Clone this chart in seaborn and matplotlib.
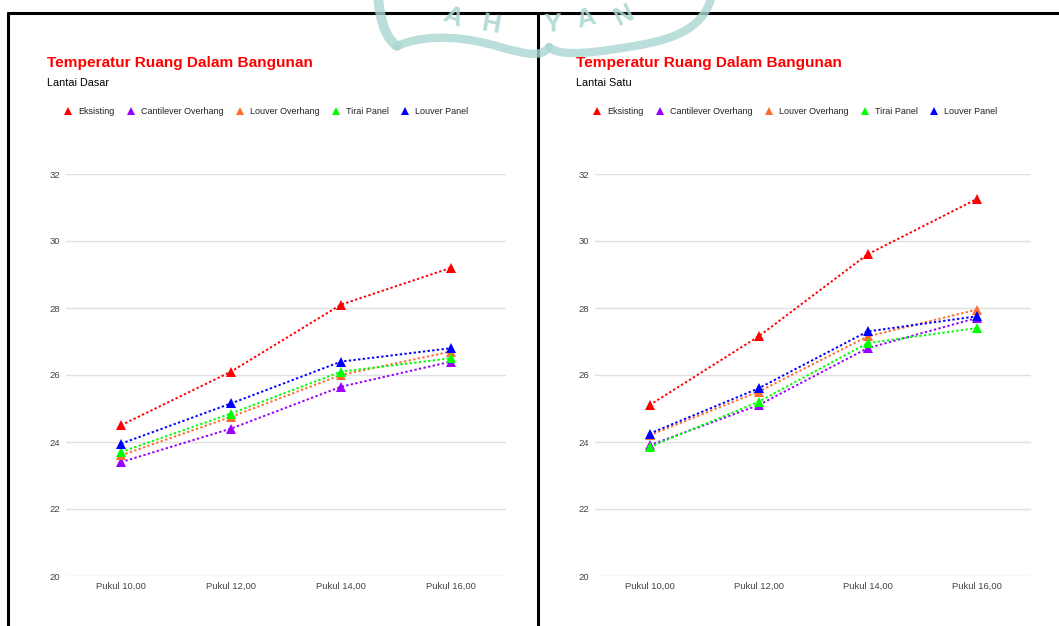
import pandas as pd
import numpy as np
import matplotlib.pyplot as plt
import matplotlib.transforms as mtransforms
import seaborn as sns
from matplotlib.lines import Line2D
from matplotlib.path import Path
from matplotlib.patches import PathPatch

jam = ['Pukul 10,00', 'Pukul 12,00', 'Pukul 14,00', 'Pukul 16,00']
seri = ['Eksisting', 'Cantilever Overhang', 'Louver Overhang', 'Tirai Panel', 'Louver Panel']
warna = ['#ff0000', '#9900ff', '#ff6d2e', '#00ff00', '#0000ff']

# Lantai Dasar
dasar_eksisting = [24.5, 26.1, 28.1, 29.2]
dasar_cantilever = [23.4, 24.4, 25.65, 26.4]
dasar_louver_oh = [23.6, 24.75, 26.0, 26.7]
dasar_tirai = [23.7, 24.85, 26.1, 26.5]
dasar_louver_panel = [23.95, 25.15, 26.4, 26.8]

# Lantai Satu
satu_eksisting = [25.1, 27.15, 29.6, 31.25]
satu_cantilever = [23.9, 25.1, 26.8, 27.7]
satu_louver_oh = [24.2, 25.5, 27.15, 27.95]
satu_tirai = [23.85, 25.2, 26.95, 27.4]
satu_louver_panel = [24.25, 25.6, 27.3, 27.75]

sns.set_style('white')
plt.rcParams['font.family'] = ['Liberation Sans', 'DejaVu Sans']

W, H = 1059, 626
fig = plt.figure(figsize=(W / 100, H / 100), dpi=100)


def px(x, y):
    return x / W, 1 - y / H


def buat_df(kolom):
    rows = []
    for nama, nilai in zip(seri, kolom):
        for j, v in zip(jam, nilai):
            rows.append({'jam': j, 'suhu': v, 'seri': nama})
    return pd.DataFrame(rows)


def panel(left, right, kolom, subjudul, x0):
    l, b = px(left, 576)
    r, t = px(right, 174)
    ax = fig.add_axes([l, b, r - l, t - b])
    df = buat_df(kolom)
    sns.lineplot(data=df, x='jam', y='suhu', hue='seri', style='seri',
                 palette=warna, markers=['^'] * 5, dashes=[(1.2, 1.2)] * 5,
                 linewidth=1.4, markersize=7, markeredgewidth=0,
                 sort=False, legend=False, ax=ax)
    ax.set_xlim(-0.5, 3.5)
    ax.set_ylim(20, 32)
    ax.set_yticks([20, 22, 24, 26, 28, 30, 32])
    ax.grid(axis='y', color='#e0e0e0', linewidth=1)
    ax.set_axisbelow(True)
    sns.despine(ax=ax, left=True, bottom=True)
    ax.tick_params(length=0, labelsize=6.8, labelcolor='#444444')
    ax.tick_params(axis='y', pad=4)
    ax.tick_params(axis='x', pad=4)
    ax.set_xlabel('')
    ax.set_ylabel('')

    fig.text(*px(x0, 63), 'Temperatur Ruang Dalam Bangunan', color='#ff0000',
             fontsize=11.1, fontweight='bold', va='center', ha='left')
    fig.text(*px(x0, 83), subjudul, color='#000000', fontsize=7.8,
             va='center', ha='left')
    handles = [Line2D([], [], marker='^', linestyle='none', color=c,
                      markersize=6, markeredgewidth=0) for c in warna]
    fig.legend(handles, seri, loc='center left', bbox_to_anchor=px(x0 + 16.5, 112),
               ncol=5, frameon=False, fontsize=6.5, handlelength=1,
               handletextpad=0.62, columnspacing=1.3, borderaxespad=0,
               borderpad=0, labelcolor='#222222')
    return ax


panel(66, 506, [dasar_eksisting, dasar_cantilever, dasar_louver_oh,
                dasar_tirai, dasar_louver_panel], 'Lantai Dasar', 47)
panel(595, 1031, [satu_eksisting, satu_cantilever, satu_louver_oh,
                  satu_tirai, satu_louver_panel], 'Lantai Satu', 576)

# bingkai panel
lw = 2.2
for xs, ys in [([8, 8], [13, 640]), ([8, 1070], [13, 13]),
               ([537.5, 537.5], [13, 640])]:
    fig.add_artist(Line2D([x / W for x in xs], [1 - y / H for y in ys],
                          color='black', linewidth=lw, zorder=5))

# watermark
tr = mtransforms.Affine2D().scale(1 / W, -1 / H).translate(0, 1) + fig.transFigure
wm = '#a9d6d1'
goresan = [
    ([(378, -5), (380, 25), (388, 40), (397, 46)], 7),
    ([(397, 46), (430, 32), (470, 38), (500, 47), (525, 54), (542, 58), (549, 47)], 6),
    ([(549, 47), (560, 58), (600, 52), (640, 45), (680, 38), (705, 25), (712, -5)], 6),
]
for verts, w in goresan:
    codes = [Path.MOVETO] + [Path.CURVE4] * (len(verts) - 1)
    fig.add_artist(PathPatch(Path(verts, codes), facecolor='none', edgecolor=wm,
                             linewidth=w, alpha=0.8, transform=tr, zorder=6,
                             capstyle='round'))
for ch, x, y, rot in [('A', 453, 17, -22), ('H', 491, 25, -10), ('Y', 553, 25, 3),
                      ('A', 586, 19, 14), ('N', 624, 16, 26)]:
    fig.text(*px(x, y), ch, color=wm, fontsize=19, fontweight='bold',
             ha='center', va='center', rotation=rot, alpha=0.85, zorder=6)

fig.savefig('out.png', dpi=100)
